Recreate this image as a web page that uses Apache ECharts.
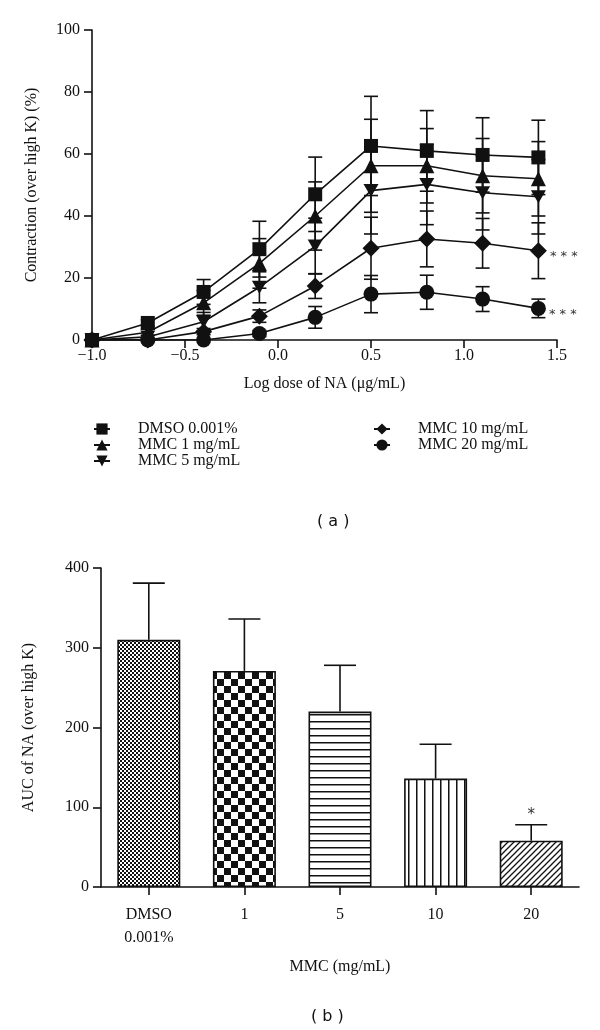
<!DOCTYPE html>
<html><head><meta charset="utf-8">
<script src="https://cdn.jsdelivr.net/npm/echarts@6/dist/echarts.min.js"></script>
<style>html,body{margin:0;padding:0;background:#fff}#c{width:600px;height:1030px}</style>
</head><body><div id="c"></div>
<script>
// ---- Panel (a) data ----
const doses = [-1.0, -0.7, -0.4, -0.1, 0.2, 0.5, 0.8, 1.1, 1.4];
const seriesNames = ['DMSO 0.001%', 'MMC 1 mg/mL', 'MMC 5 mg/mL', 'MMC 10 mg/mL', 'MMC 20 mg/mL'];
const dmso    = [0, 5.5, 15.5, 29.3, 47.0, 62.6, 61.0, 59.7, 58.9];
const dmsoErr = [0, 1, 4, 9, 12, 16, 13, 12, 12];
const mmc1    = [0, 2.5, 12.0, 24.7, 40.0, 56.2, 56.2, 53.0, 52.0];
const mmc1Err = [0, 1, 4, 8, 11, 15, 12, 12, 12];
const mmc5    = [0, 1.0, 5.9, 17.0, 30.3, 48.2, 50.2, 47.5, 46.2];
const mmc5Err = [0, 0.5, 3, 5, 9, 14, 13, 12, 12];
const mmc10    = [0, 0, 2.7, 7.7, 17.4, 29.6, 32.6, 31.2, 28.8];
const mmc10Err = [0, 0, 1, 2, 4, 10, 9, 8, 9];
const mmc20    = [0, 0, 0, 2.1, 7.3, 14.8, 15.4, 13.2, 10.2];
const mmc20Err = [0, 0, 0, 1, 3.5, 6, 5.5, 4, 3];
const sigA = ['', '', '', '* * *', '* * *'];
const xTicksA = [-1.0, -0.5, 0.0, 0.5, 1.0, 1.5];
const yTicksA = [0, 20, 40, 60, 80, 100];

// ---- Panel (b) data ----
const categoriesB = ['DMSO\n0.001%', '1', '5', '10', '20'];
const auc    = [310, 271, 220, 136, 58];
const aucErr = [71, 65, 58, 43, 20];
const sigB   = ['', '', '', '', '*'];
const yTicksB = [0, 100, 200, 300, 400];

const FONT = 'Liberation Serif';
const INK = '#111';

// patterns
function mk(w, h, draw) {
  const c = document.createElement('canvas'); c.width = w; c.height = h;
  const g = c.getContext('2d'); g.fillStyle = '#fff'; g.fillRect(0, 0, w, h);
  g.fillStyle = INK; g.strokeStyle = INK; draw(g); return c;
}
const patterns = [
  mk(4, 4, g => { g.fillRect(0, 0, 2, 2); g.fillRect(2, 2, 2, 2); }),
  mk(14, 14, g => { g.fillRect(0, 0, 7, 7); g.fillRect(7, 7, 7, 7); }),
  mk(8, 7, g => { g.fillRect(0, 0, 8, 1.5); }),
  mk(8, 8, g => { g.fillRect(0, 0, 1.5, 8); }),
  mk(6, 6, g => { g.lineWidth = 1.3; g.beginPath(); g.moveTo(-1, 7); g.lineTo(7, -1); g.moveTo(-4, 4); g.lineTo(4, -4); g.moveTo(2, 10); g.lineTo(10, 2); g.stroke(); })
];

const lineVals = [dmso, mmc1, mmc5, mmc10, mmc20];
const errVals = [dmsoErr, mmc1Err, mmc5Err, mmc10Err, mmc20Err];
const symbols = ['rect', 'triangle', 'path://M0,0L10,0L5,9Z', 'diamond', 'circle'];
const symSizes = [14, 15, [15, 13], 17, 15];

const series = [];
lineVals.forEach((vals, si) => {
  series.push({
    type: 'custom', xAxisIndex: 0, yAxisIndex: 0, z: 1, silent: true,
    data: doses.map((d, i) => [d, vals[i], errVals[si][i]]),
    renderItem: (params, api) => {
      const x = api.value(0), y = api.value(1), e = api.value(2);
      if (!e) return;
      const top = api.coord([x, y + e]), bot = api.coord([x, y - e]);
      const w = 7;
      const st = { stroke: INK, lineWidth: 1.6 };
      return { type: 'group', children: [
        { type: 'line', shape: { x1: top[0], y1: top[1], x2: bot[0], y2: bot[1] }, style: st },
        { type: 'line', shape: { x1: top[0] - w, y1: top[1], x2: top[0] + w, y2: top[1] }, style: st },
        { type: 'line', shape: { x1: bot[0] - w, y1: bot[1], x2: bot[0] + w, y2: bot[1] }, style: st }
      ]};
    }
  });
  series.push({
    name: seriesNames[si], type: 'line', xAxisIndex: 0, yAxisIndex: 0, z: 3,
    symbol: symbols[si], symbolSize: symSizes[si], showAllSymbol: true,
    lineStyle: { color: INK, width: 1.6 },
    itemStyle: { color: INK, borderColor: INK, borderWidth: 0 },
    emphasis: { disabled: true },
    data: doses.map((d, i) => {
      const item = { value: [d, vals[i]] };
      if (i === doses.length - 1 && sigA[si]) {
        item.label = { show: true, formatter: sigA[si], position: 'right', distance: 3, offset: [0, 6],
          fontFamily: 'DejaVu Sans', fontSize: 13, color: '#333' };
      }
      return item;
    })
  });
});

series.push({
  type: 'bar', xAxisIndex: 1, yAxisIndex: 1, barWidth: 63, z: 2,
  data: auc.map((v, i) => ({ value: v, itemStyle: { color: { image: patterns[i], repeat: 'repeat' } } })),
  itemStyle: { borderColor: INK, borderWidth: 1.6 },
  emphasis: { disabled: true }
});
series.push({
  type: 'custom', xAxisIndex: 1, yAxisIndex: 1, z: 1, silent: true,
  data: auc.map((v, i) => [i, v, aucErr[i]]),
  renderItem: (params, api) => {
    const i = api.value(0), v = api.value(1), e = api.value(2);
    const base = api.coord([i, v]), top = api.coord([i, v + e]);
    const st = { stroke: INK, lineWidth: 1.6 };
    const ch = [
      { type: 'line', shape: { x1: base[0], y1: base[1], x2: top[0], y2: top[1] }, style: st },
      { type: 'line', shape: { x1: top[0] - 16, y1: top[1], x2: top[0] + 16, y2: top[1] }, style: st }
    ];
    const s = sigB[params.dataIndex];
    if (s) ch.push({ type: 'text', style: { text: s, x: top[0], y: top[1] - 2, align: 'center', verticalAlign: 'bottom',
      font: '15px "DejaVu Sans"', fill: '#333' } });
    return { type: 'group', children: ch };
  }
});

const axisCommon = {
  axisLine: { show: true, onZero: false, lineStyle: { color: INK, width: 1.6 } },
  axisTick: { show: true, length: 8, lineStyle: { color: INK, width: 1.6 } },
  axisLabel: { color: INK, fontFamily: FONT, fontSize: 16 },
  splitLine: { show: false },
  nameTextStyle: { color: INK, fontFamily: FONT, fontSize: 16 }
};

const legendCommon = {
  orient: 'vertical', itemGap: 0, itemWidth: 16, itemHeight: 14, selectedMode: false,
  textStyle: { fontFamily: FONT, fontSize: 16, color: INK, padding: [0, 0, 0, 23] }
};

const chart = echarts.init(document.getElementById('c'), null, { renderer: 'canvas' });
chart.setOption({
  backgroundColor: '#fff',
  animation: false,
  title: [
    { text: '( a )', left: 312, top: 509, textStyle: { fontFamily: 'DejaVu Sans', fontSize: 16, fontWeight: 'normal', color: INK } },
    { text: '( b )', left: 306, top: 1004, textStyle: { fontFamily: 'DejaVu Sans', fontSize: 16, fontWeight: 'normal', color: INK } }
  ],
  legend: [
    Object.assign({}, legendCommon, { data: seriesNames.slice(0, 3), left: 88, top: 416 }),
    Object.assign({}, legendCommon, { data: seriesNames.slice(3), left: 368, top: 416 })
  ],
  grid: [
    { left: 92, top: 30, width: 465, height: 310, containLabel: false },
    { left: 101, top: 568, width: 478, height: 319, containLabel: false }
  ],
  xAxis: [
    Object.assign({}, axisCommon, {
      gridIndex: 0, type: 'value', min: xTicksA[0], max: xTicksA[xTicksA.length - 1], interval: 0.5,
      name: 'Log dose of NA (μg/mL)', nameLocation: 'middle', nameGap: 36,
      axisLabel: Object.assign({}, axisCommon.axisLabel, { margin: 8,
        formatter: v => (v < 0 ? '\u2212' : '') + Math.abs(v).toFixed(1) })
    }),
    Object.assign({}, axisCommon, {
      gridIndex: 1, type: 'category', data: categoriesB,
      name: 'MMC (mg/mL)', nameLocation: 'middle', nameGap: 72,
      axisTick: Object.assign({}, axisCommon.axisTick, { alignWithLabel: true }),
      axisLabel: Object.assign({}, axisCommon.axisLabel, { margin: 16, lineHeight: 23 })
    })
  ],
  yAxis: [
    Object.assign({}, axisCommon, {
      gridIndex: 0, type: 'value', min: yTicksA[0], max: yTicksA[yTicksA.length - 1], interval: 20,
      name: 'Contraction (over high K) (%)', nameLocation: 'middle', nameGap: 52,
      axisLabel: Object.assign({}, axisCommon.axisLabel, { margin: 12 })
    }),
    Object.assign({}, axisCommon, {
      gridIndex: 1, type: 'value', min: yTicksB[0], max: yTicksB[yTicksB.length - 1], interval: 100,
      name: 'AUC of NA (over high K)', nameLocation: 'middle', nameGap: 64,
      axisLabel: Object.assign({}, axisCommon.axisLabel, { margin: 12 })
    })
  ],
  series: series
});
</script>
</body></html>
